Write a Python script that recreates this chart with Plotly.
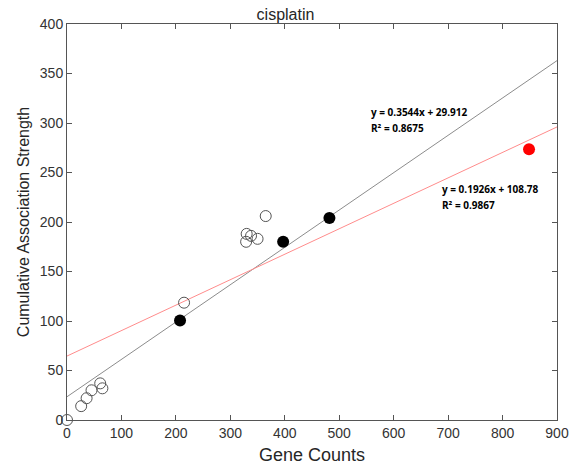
import plotly.graph_objects as go

# Data
open_x = [0, 26, 36, 45, 61, 65, 215, 330, 338, 350, 329, 365]
open_y = [0, 14, 22, 30, 37, 32, 118.5, 188, 186, 183, 180, 206]
black_x = [207.6, 397, 482]
black_y = [100.5, 180, 204]
red_x = [848.6]
red_y = [273.5]
line_x = [0, 900]
black_line_y = [23.5, 363]
red_line_y = [64.6, 296]
eq1 = ["y = 0.3544x + 29.912", "R² = 0.8675"]
eq2 = ["y = 0.1926x + 108.78", "R² = 0.9867"]
x_ticks = [0, 100, 200, 300, 400, 500, 600, 700, 800, 900]
y_ticks = [0, 50, 100, 150, 200, 250, 300, 350, 400]

fig = go.Figure()
fig.add_trace(go.Scatter(x=line_x, y=black_line_y, mode="lines",
                         line=dict(color="#8c8c8c", width=1), showlegend=False))
fig.add_trace(go.Scatter(x=line_x, y=red_line_y, mode="lines",
                         line=dict(color="#ff8c8c", width=1), showlegend=False))
fig.add_trace(go.Scatter(x=open_x, y=open_y, mode="markers", cliponaxis=False,
                         marker=dict(symbol="circle-open", size=11, color="#555555",
                                     line=dict(width=1)), showlegend=False))
fig.add_trace(go.Scatter(x=black_x, y=black_y, mode="markers",
                         marker=dict(symbol="circle", size=12, color="black"), showlegend=False))
fig.add_trace(go.Scatter(x=red_x, y=red_y, mode="markers",
                         marker=dict(symbol="circle", size=12, color="red"), showlegend=False))

ann_font = dict(family="Open Sans", size=10, color="black")
for (tx, ty), txt in zip([(555, 311.4), (555, 295.3)], eq1):
    fig.add_annotation(x=tx, y=ty, text="<b>%s</b>" % txt, showarrow=False,
                       xanchor="left", yanchor="middle", font=ann_font)
for (tx, ty), txt in zip([(685, 233.3), (685, 217.2)], eq2):
    fig.add_annotation(x=tx, y=ty, text="<b>%s</b>" % txt, showarrow=False,
                       xanchor="left", yanchor="middle", font=ann_font)

axis_common = dict(showgrid=False, zeroline=False, showline=True, linecolor="#555555",
                   linewidth=1, mirror="ticks", ticks="inside", ticklen=5, automargin=False,
                   tickcolor="#555555", tickfont=dict(family="Liberation Sans", size=14, color="#333333"))
fig.update_layout(
    width=571, height=472,
    margin=dict(l=67, r=14, t=24, b=52),
    paper_bgcolor="white", plot_bgcolor="white",
    title=dict(text="cisplatin", x=0.5, xanchor="center", y=1 - 14 / 472, yanchor="middle",
               font=dict(family="Liberation Sans", size=16, color="#262626")),
    xaxis=dict(range=[0, 900], tickvals=x_ticks,
               title=dict(text="Gene Counts", font=dict(family="Liberation Sans", size=18, color="#262626"), standoff=8),
               **axis_common),
    yaxis=dict(range=[0, 400], tickvals=y_ticks,
               title=dict(text="Cumulative Association Strength", font=dict(family="Liberation Sans", size=16, color="#262626"), standoff=6),
               **axis_common),
)
fig.write_html("out.html")
